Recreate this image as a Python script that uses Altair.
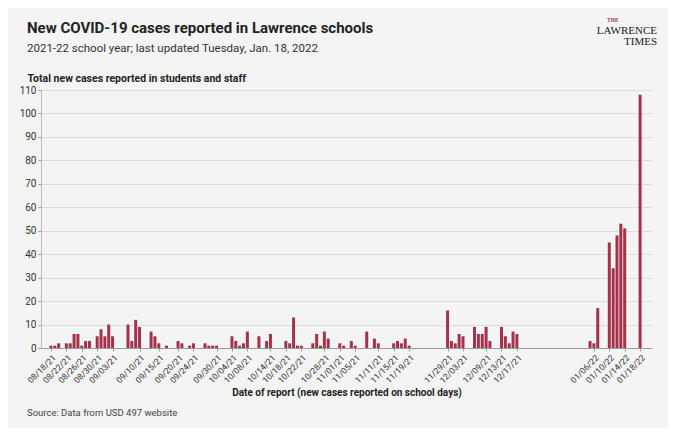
import altair as alt
import pandas as pd

# school-day reports
dates = [
    "2021-08-18", "2021-08-19", "2021-08-20", "2021-08-22", "2021-08-23",
    "2021-08-24", "2021-08-25", "2021-08-26", "2021-08-27", "2021-08-28",
    "2021-08-30", "2021-08-31", "2021-09-01", "2021-09-02", "2021-09-03",
    "2021-09-07", "2021-09-08", "2021-09-09", "2021-09-10",
    "2021-09-13", "2021-09-14", "2021-09-15", "2021-09-17",
    "2021-09-20", "2021-09-21", "2021-09-23", "2021-09-24",
    "2021-09-27", "2021-09-28", "2021-09-29", "2021-09-30",
    "2021-10-04", "2021-10-05", "2021-10-06", "2021-10-07", "2021-10-08",
    "2021-10-11", "2021-10-13", "2021-10-14",
    "2021-10-18", "2021-10-19", "2021-10-20", "2021-10-21", "2021-10-22",
    "2021-10-25", "2021-10-26", "2021-10-27", "2021-10-28", "2021-10-29",
    "2021-11-01", "2021-11-02", "2021-11-04", "2021-11-05",
    "2021-11-08", "2021-11-10", "2021-11-11",
    "2021-11-15", "2021-11-16", "2021-11-17", "2021-11-18", "2021-11-19",
    "2021-11-29", "2021-11-30", "2021-12-01", "2021-12-02", "2021-12-03",
    "2021-12-06", "2021-12-07", "2021-12-08", "2021-12-09", "2021-12-10",
    "2021-12-13", "2021-12-14", "2021-12-15", "2021-12-16", "2021-12-17",
    "2022-01-05", "2022-01-06", "2022-01-07",
    "2022-01-10", "2022-01-11", "2022-01-12", "2022-01-13", "2022-01-14",
    "2022-01-18",
]
cases = [
    1, 1, 2, 2, 2,
    6, 6, 1, 3, 3,
    5, 8, 5, 10, 5,
    10, 3, 12, 9,
    7, 5, 2, 1,
    3, 2, 1, 2,
    2, 1, 1, 1,
    5, 3, 1, 2, 7,
    5, 3, 6,
    3, 2, 13, 1, 1,
    2, 6, 1, 7, 4,
    2, 1, 3, 1,
    7, 4, 2,
    2, 3, 2, 4, 1,
    16, 3, 2, 6, 5,
    9, 6, 6, 9, 3,
    9, 5, 2, 7, 6,
    3, 2, 17,
    45, 34, 48, 53, 51,
    108,
]

# dates that get a label on the x axis
tick_dates = [
    (2021, 8, 18), (2021, 8, 22), (2021, 8, 26), (2021, 8, 30), (2021, 9, 3),
    (2021, 9, 10), (2021, 9, 15), (2021, 9, 20), (2021, 9, 24), (2021, 9, 30),
    (2021, 10, 4), (2021, 10, 8), (2021, 10, 14), (2021, 10, 18), (2021, 10, 22),
    (2021, 10, 28), (2021, 11, 1), (2021, 11, 5), (2021, 11, 11), (2021, 11, 15),
    (2021, 11, 19), (2021, 11, 29), (2021, 12, 3), (2021, 12, 9), (2021, 12, 13),
    (2021, 12, 17), (2022, 1, 6), (2022, 1, 10), (2022, 1, 14), (2022, 1, 18),
]
y_ticks = list(range(0, 111, 10))

title_text = "New COVID-19 cases reported in Lawrence schools"
subtitle_text = "2021-22 school year; last updated Tuesday, Jan. 18, 2022"
source_text = "Source: Data from USD 497 website"

FONT = "Roboto, sans-serif"
SERIF = "Liberation Serif, DejaVu Serif, serif"
RED = "#a5314b"

df = pd.DataFrame({"date": pd.to_datetime(dates), "cases": cases})

bars = alt.Chart(df).mark_bar(color=RED, size=3).encode(
    alt.X(
        "date:T",
        scale=alt.Scale(domain=[
            alt.DateTime(year=2021, month=8, date=16, hours=17),
            alt.DateTime(year=2022, month=1, date=19, hours=19),
        ]),
        axis=alt.Axis(
            values=[alt.DateTime(year=y, month=m, date=d) for y, m, d in tick_dates],
            format="%m/%d/%y",
            labelAngle=-45,
            labelFontSize=8.5,
            labelColor="#333",
            labelPadding=2,
            labelFlush=False,
            labelOverlap=False,
            tickSize=3,
            tickColor="#999",
            domainColor="#999",
            grid=False,
            title="Date of report (new cases reported on school days)",
            titleFontSize=10,
            titleFontWeight="bold",
            titleColor="#222",
            titleY=47,
            titleBaseline="alphabetic",
        ),
    ),
    alt.Y(
        "cases:Q",
        scale=alt.Scale(domain=[0, 110], nice=False),
        axis=alt.Axis(
            values=y_ticks,
            labelFontSize=10,
            labelColor="#333",
            labelPadding=2,
            tickSize=3,
            tickColor="#999",
            domainColor="#bbb",
            gridColor="#dddddd",
            title="Total new cases reported in students and staff",
            titleAngle=0,
            titleAlign="left",
            titleBaseline="alphabetic",
            titleX=-14,
            titleY=-9,
            titleFontSize=10.5,
            titleFontWeight="bold",
            titleColor="#222",
        ),
    ),
)


def note(text, x, y, **style):
    # a single piece of text placed in pixels relative to the plot area
    return alt.Chart(pd.DataFrame({"t": [text]})).mark_text(
        baseline="alphabetic", **style
    ).encode(text="t:N", x=alt.value(x), y=alt.value(y))


title = note(title_text, -14, -57, align="left", fontSize=15,
             fontWeight="bold", color="#222", font=FONT)
subtitle = note(subtitle_text, -14, -38, align="left", fontSize=11.5,
                color="#333", font=FONT)
source = note(source_text, -14, 326, align="left", fontSize=9.5,
              color="#444", font=FONT)
logo_the = note("THE", 566, -68, align="left", fontSize=5.5, color=RED,
                font=SERIF, fontWeight="bold")
logo_name = note("LAWRENCE", 616, -56, align="right", fontSize=11,
                 color="#222", font=SERIF)
logo_times = note("TIMES", 616, -45, align="right", fontSize=11,
                  color="#222", font=SERIF)

chart = alt.layer(
    bars, title, subtitle, source, logo_the, logo_name, logo_times
).properties(
    width=611,
    height=258,
    autosize=alt.AutoSizeParams(type="none"),
    padding={"left": 33, "top": 82, "right": 16, "bottom": 80},
    background="#f4f4f4",
).configure(font=FONT).configure_view(stroke=None)

chart.save("out.html", embed_options={"renderer": "svg", "actions": False})
